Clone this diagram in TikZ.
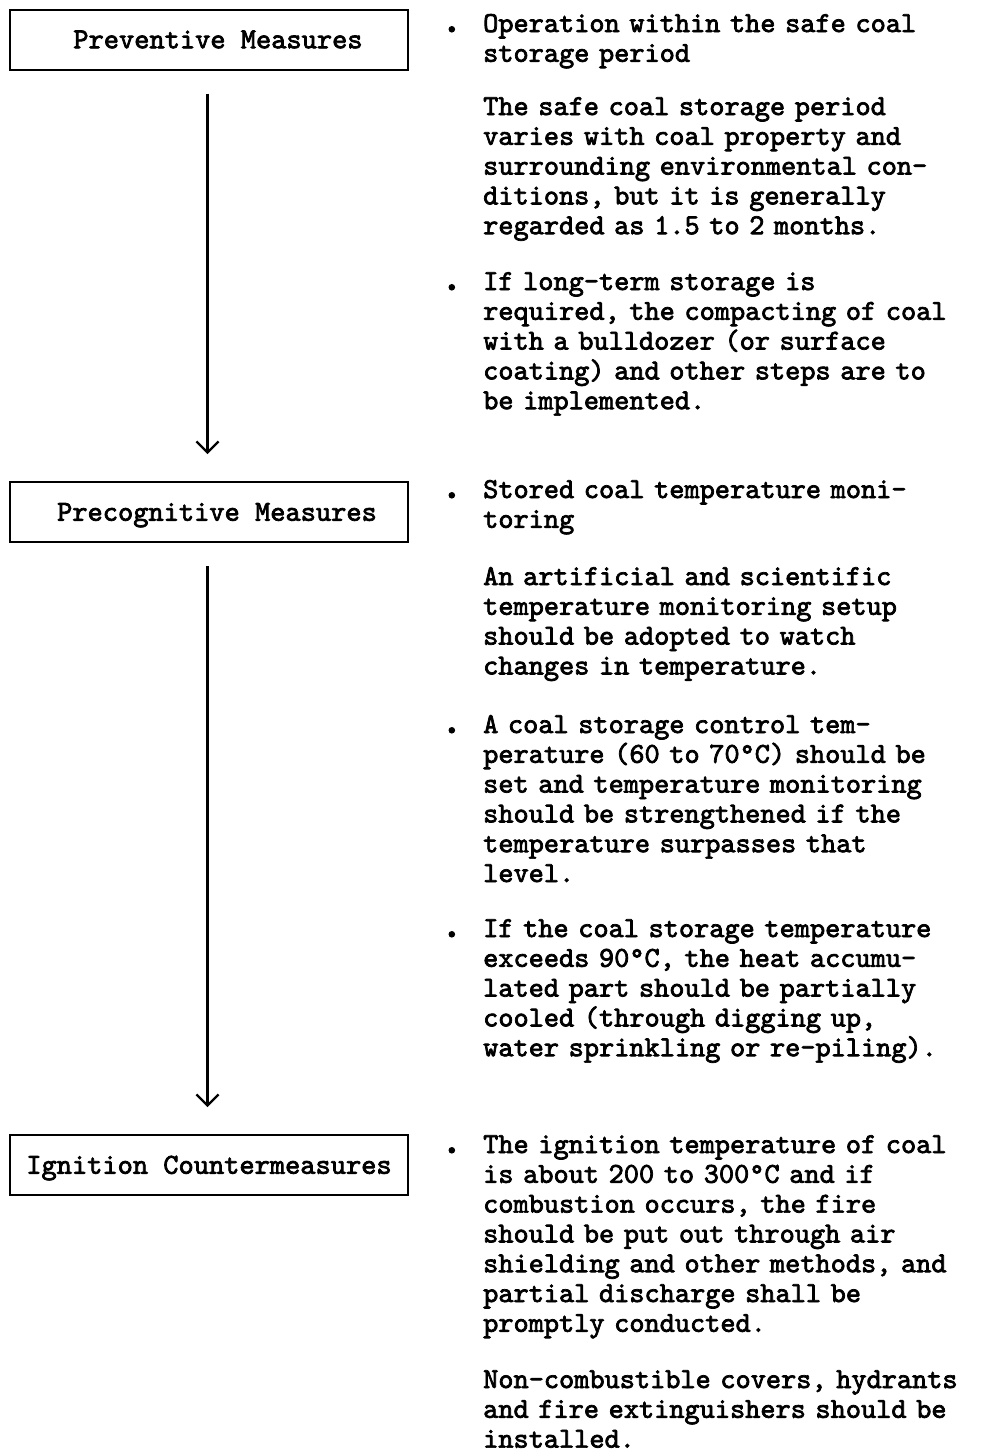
\documentclass[tikz,border=0pt]{standalone}
\usepackage{fontspec}
\newfontfamily\typew{lmmono10-regular.otf}[FakeBold=2.5]
\usetikzlibrary{arrows.meta}

\begin{document}
\begin{tikzpicture}[x=1pt,y=-1pt,
  stage/.style={draw, line width=2pt, minimum width=398pt, minimum height=60pt,
    inner sep=0pt, text height=17.5pt, text depth=0pt,
    font=\typew\fontsize{29}{30}\selectfont},
  note/.style={anchor=base west, inner sep=0pt, text width=520pt, align=left,
    font=\typew\fontsize{28.9}{29.8}\selectfont},
  flow/.style={line width=2.2pt, -{Straight Barb[length=11pt,width=22pt]},
    shorten <=23pt, shorten >=27pt}]
\newcommand\bul{\makebox[0pt][r]{\scalebox{1.5}{.}\hspace{20pt}}}

\useasboundingbox (0,0) rectangle (988,1454);

% stage boxes
\node[stage] (prev) at (209,39.5) {\hspace*{18pt}Preventive Measures};
\node[stage] (prec) at (209,512) {\hspace*{16pt}Precognitive Measures};
\node[stage] (ign)  at (209,1165) {Ignition Countermeasures};

% connectors
\draw[flow] ([xshift=-1.5pt]prev.south) -- ([xshift=-1.5pt]prec.north);
\draw[flow] ([xshift=-1.5pt]prec.south) -- ([xshift=-1.5pt]ign.north);

% notes beside the preventive stage
\node[note] (p1) at (483,32) {\bul Operation within the safe coal\\storage period};
\node[note] (p2) at (483,115) {The safe coal storage period\\varies with coal property and\\surrounding environmental con-\\ditions, but it is generally\\regarded as 1.5 to 2 months.};
\node[note] (p3) at (483,290) {\bul If long-term storage is\\required, the compacting of coal\\with a bulldozer (or surface\\coating) and other steps are to\\be implemented.};

% notes beside the precognitive stage
\node[note] (p4) at (483,498) {\bul Stored coal temperature moni-\\toring};
\node[note] (p5) at (483,585) {An artificial and scientific\\temperature monitoring setup\\should be adopted to watch\\changes in temperature.};
\node[note] (p6) at (483,733) {\bul A coal storage control tem-\\perature (60 to 70°C) should be\\set and temperature monitoring\\should be strengthened if the\\temperature surpasses that\\level.};
\node[note] (p7) at (483,937) {\bul If the coal storage temperature\\exceeds 90°C, the heat accumu-\\lated part should be partially\\cooled (through digging up,\\water sprinkling or re-piling).};

% notes beside the ignition stage
\node[note] (p8) at (483,1153) {\bul The ignition temperature of coal\\is about 200 to 300°C and if\\combustion occurs, the fire\\should be put out through air\\shielding and other methods, and\\partial discharge shall be\\promptly conducted.};
\node[note] (p9) at (483,1388) {Non-combustible covers, hydrants\\and fire extinguishers should be\\installed.};
\end{tikzpicture}
\end{document}
